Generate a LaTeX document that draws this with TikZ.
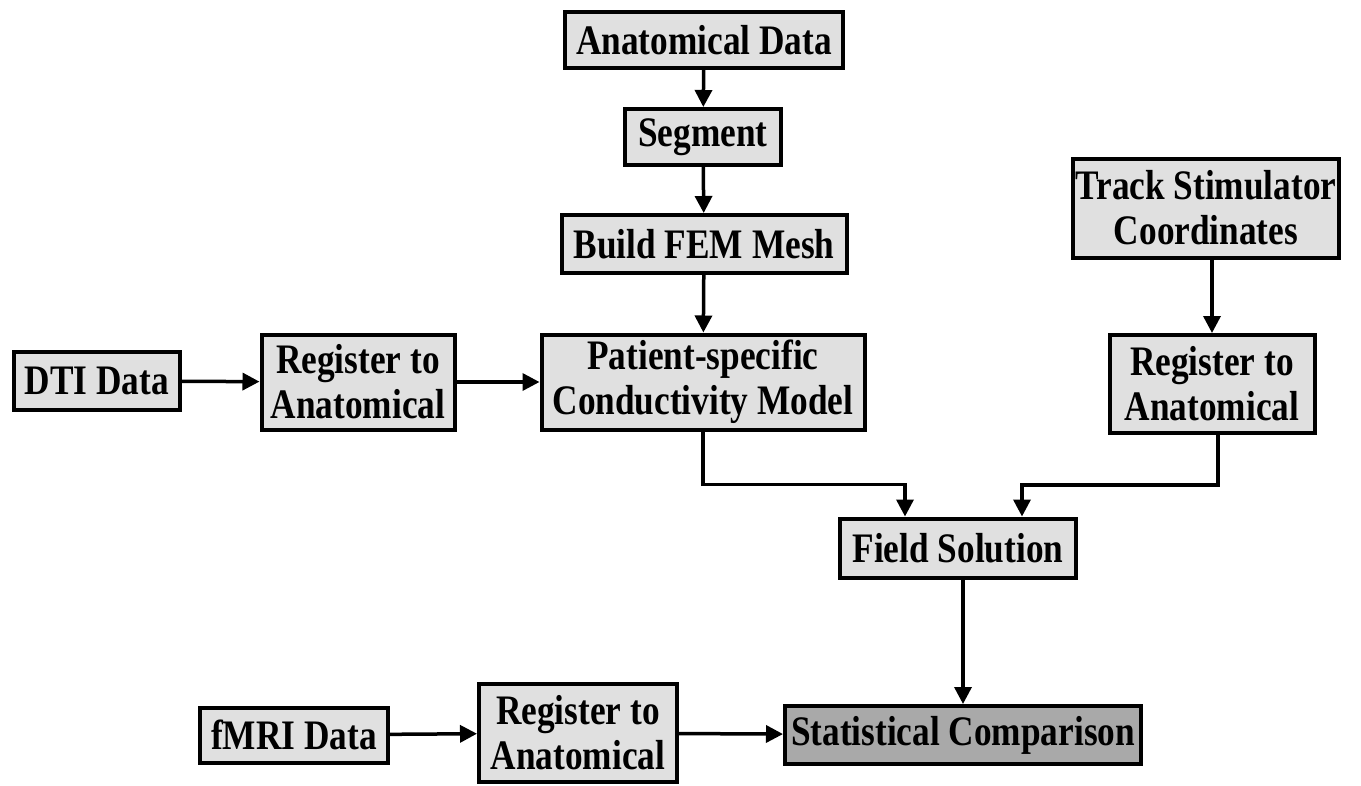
\documentclass[tikz,border=0pt]{standalone}
\usepackage{fontspec}
\setmainfont{Liberation Serif}[FakeStretch=0.84]
\usepackage{xcolor}
\usepackage{tikz}
\usetikzlibrary{arrows.meta,calc,positioning}

\definecolor{boxgray}{HTML}{E0E0E0}
\definecolor{darkgray}{HTML}{A9A9A9}

\begin{document}
\begin{tikzpicture}[x=1pt,y=-1pt,
    blk/.style={draw, line width=4pt, fill=boxgray, inner sep=0pt, align=center,
      font=\fontsize{42}{45}\selectfont\bfseries},
    arr/.style={line width=3.5pt, -{Triangle[length=17pt,width=17pt]}}]

  \useasboundingbox (0,0) rectangle (1361,785);

  % top column
  \node[blk, minimum width=278, minimum height=56] (anat) at (704,40) {Anatomical Data};
  \node[blk, minimum width=156, minimum height=56] (seg) at (703,137) {Segment};
  \node[blk, minimum width=285, minimum height=58] (fem) at (704,244) {Build FEM Mesh};
  \node[blk, minimum width=266, minimum height=99] (track) at (1206,208) {Track Stimulator\\Coordinates};

  % middle row
  \node[blk, minimum width=166, minimum height=58] (dti) at (97,381) {DTI Data};
  \node[blk, minimum width=193, minimum height=95] (regdti) at (358,382) {Register to\\Anatomical};
  \node[blk, minimum width=323, minimum height=95] (model) at (703,382) {Patient-specific\\Conductivity Model};
  \node[blk, minimum width=205, minimum height=98] (regtrack) at (1212,384) {Register to\\Anatomical};

  \node[blk, minimum width=236, minimum height=59] (field) at (958,548) {Field Solution};

  % bottom row
  \node[blk, minimum width=188, minimum height=55] (fmri) at (294,735) {fMRI Data};
  \node[blk, minimum width=198, minimum height=98] (regfmri) at (578,733) {Register to\\Anatomical};
  \node[blk, fill=darkgray, minimum width=356, minimum height=58] (stat) at (963,735) {Statistical Comparison};

  \coordinate (fieldin1) at ($(field.north)+(-53,0)$);
  \coordinate (fieldin2) at ($(field.north)+(64,0)$);

  \draw[arr] (anat) -- (seg);
  \draw[arr] (seg) -- (fem);
  \draw[arr] (fem) -- (model);
  \draw[arr] (regtrack.north |- track.south) -- (regtrack.north);
  \draw[arr] (dti) -- (regdti);
  \draw[arr] (regdti) -- (model);
  \draw[arr] (model.south) -- ++(0,53) -| (fieldin1);
  \draw[arr] ($(regtrack.south)+(6,0)$) -- ++(0,50) -| (fieldin2);
  \draw[arr] (stat.north |- field.south) -- (stat.north);
  \draw[arr] (fmri) -- (regfmri);
  \draw[arr] (regfmri) -- (stat);

\end{tikzpicture}
\end{document}
